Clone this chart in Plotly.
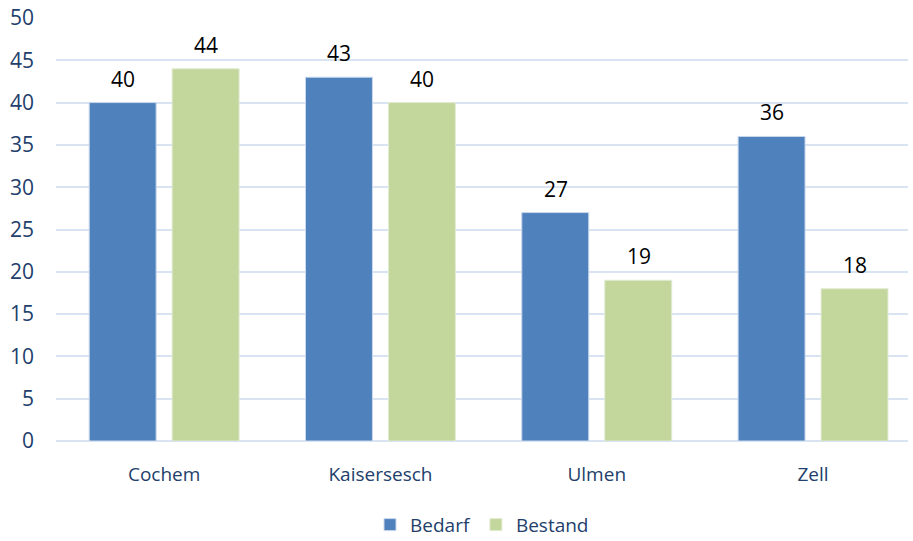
import plotly.graph_objects as go

# Daten
orte = ["Cochem", "Kaisersesch", "Ulmen", "Zell"]
bedarf = [40, 43, 27, 36]
bestand = [44, 40, 19, 18]

textfarbe = "#22406B"

fig = go.Figure()
fig.add_trace(go.Bar(x=orte, y=bedarf, name="Bedarf", marker_color="#4F81BD",
                     marker_line=dict(color="#C9D8EC", width=1)))
fig.add_trace(go.Bar(x=orte, y=bestand, name="Bestand", marker_color="#C3D69B",
                     marker_line=dict(color="#E2EBD3", width=1)))

# Werte ueber den Balken
for werte, dx in [(bedarf, -41), (bestand, 42)]:
    for ort, w in zip(orte, werte):
        fig.add_annotation(x=ort, y=w, text=str(w), showarrow=False,
                           xshift=dx, yshift=24,
                           font=dict(color="black", size=21))

# Layout
fig.update_layout(
    width=913, height=541,
    margin=dict(t=18, l=56, r=5, b=100),
    plot_bgcolor="white", paper_bgcolor="white",
    font=dict(family="Open Sans", size=19, color=textfarbe),
    barmode="group", bargap=0.233, bargroupgap=0.193,
    showlegend=True,
    legend=dict(orientation="h", x=0.5, xanchor="center",
                yref="container", y=0.03, yanchor="middle",
                font=dict(size=19, color=textfarbe)),
)
fig.update_yaxes(range=[0, 50], dtick=5, gridcolor="#D9E4F2", gridwidth=2,
                 zeroline=True, zerolinecolor="#D9E4F2", zerolinewidth=2,
                 ticks="", ticklabelstandoff=21, automargin=False,
                 tickfont=dict(size=21))
fig.update_xaxes(range=[-0.5, 3.439], showline=False, ticks="",
                 ticklabelstandoff=20, automargin=False)

# Seitenrand entfernen, damit die Grafik bei 0,0 beginnt
fig.write_html("out.html", config={"displayModeBar": False},
               post_script="document.body.style.margin='0';")
